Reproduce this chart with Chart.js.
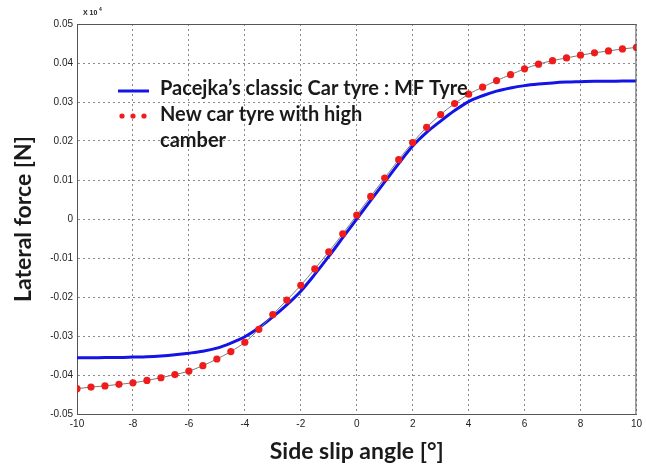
<!DOCTYPE html>
<html>
<head>
<meta charset="utf-8">
<script src="https://cdn.jsdelivr.net/npm/chart.js@4"></script>
<style>
  html, body { margin: 0; padding: 0; background: #fff; }
  #wrap { width: 646px; height: 470px; }
</style>
</head>
<body>
<div id="wrap"><canvas id="tyreChart" width="646" height="470"></canvas></div>
<script>
// side slip angle [deg]
var slipAngles = [-10, -9.5, -9, -8.5, -8, -7.5, -7, -6.5, -6, -5.5, -5, -4.5, -4, -3.5, -3, -2.5, -2, -1.5, -1, -0.5,
                  0, 0.5, 1, 1.5, 2, 2.5, 3, 3.5, 4, 4.5, 5, 5.5, 6, 6.5, 7, 7.5, 8, 8.5, 9, 9.5, 10];

// Pacejka's classic car tyre (MF tyre)
var mfTyre = [-0.0356, -0.0356, -0.0355, -0.0355, -0.0354, -0.0353, -0.0351, -0.0348, -0.0344, -0.0339,
              -0.0331, -0.0318, -0.0302, -0.0279, -0.0251, -0.0220, -0.0185, -0.0142, -0.0096, -0.0048,
              0, 0.0048, 0.0095, 0.0142, 0.0187, 0.0222, 0.0251, 0.0278, 0.0301, 0.0316,
              0.0328, 0.0336, 0.0342, 0.0346, 0.0349, 0.0351, 0.0352, 0.0353, 0.0353, 0.0354, 0.0354];

// new car tyre with high camber
var highCamber = [-0.0435, -0.0431, -0.0428, -0.0424, -0.0420, -0.0414, -0.0407, -0.0399, -0.0390, -0.0376,
                  -0.0359, -0.0340, -0.0316, -0.0283, -0.0245, -0.0208, -0.0170, -0.0128, -0.0084, -0.0038,
                  0.0010, 0.0058, 0.0105, 0.0152, 0.0196, 0.0235, 0.0268, 0.0296, 0.0320, 0.0338,
                  0.0355, 0.0370, 0.0385, 0.0397, 0.0406, 0.0413, 0.0420, 0.0426, 0.0431, 0.0436, 0.0440];

var xTicks = [-10, -8, -6, -4, -2, 0, 2, 4, 6, 8, 10];
var yTicks = [0.05, 0.04, 0.03, 0.02, 0.01, 0, -0.01, -0.02, -0.03, -0.04, -0.05];

var legendLabels = ['Pacejka\u2019s classic Car tyre : MF Tyre', 'New car tyre with high', 'camber'];

function toPoints(ys) {
    return slipAngles.map(function(x, i) { return { x: x, y: ys[i] }; });
}

var tickFont = '"Liberation Sans Narrow", "Liberation Sans", Arial, sans-serif';
var titleFont = 'Lato, "Open Sans", sans-serif';

// frame on top/right, the x10^4 note and the legend inside the plot
var extrasPlugin = {
    id: 'extras',
    afterDraw: function(chart) {
        var ctx = chart.ctx, a = chart.chartArea;
        ctx.save();
        ctx.strokeStyle = '#555';
        ctx.lineWidth = 1;
        ctx.beginPath();
        ctx.moveTo(a.left, a.top + 0.5);
        ctx.lineTo(a.right - 0.5, a.top + 0.5);
        ctx.lineTo(a.right - 0.5, a.bottom);
        ctx.stroke();

        ctx.fillStyle = '#222';
        ctx.textBaseline = 'alphabetic';
        ctx.font = 'bold 7px "Liberation Sans", Arial, sans-serif';
        ctx.fillText('X 10', 83, 15);
        ctx.font = 'bold 5px "Liberation Sans", Arial, sans-serif';
        ctx.fillText('4', 99, 11);

        // legend
        ctx.strokeStyle = '#1414e6';
        ctx.lineWidth = 3;
        ctx.beginPath();
        ctx.moveTo(118, 91);
        ctx.lineTo(149, 91);
        ctx.stroke();
        ctx.fillStyle = '#f01c1c';
        [122, 133, 144].forEach(function(px) {
            ctx.beginPath();
            ctx.arc(px, 116, 2.6, 0, Math.PI * 2);
            ctx.fill();
        });
        ctx.fillStyle = '#1a1a1a';
        ctx.font = 'bold 20px ' + titleFont;
        ctx.textBaseline = 'middle';
        ctx.fillText(legendLabels[0], 160, 89);
        ctx.fillText(legendLabels[1], 160, 115);
        ctx.fillText(legendLabels[2], 160, 141);
        ctx.restore();
    }
};

var ctxTyre = document.getElementById('tyreChart').getContext('2d');
var tyreChart = new Chart(ctxTyre, {
    type: 'line',
    data: {
        datasets: [{
            label: legendLabels[0],
            data: toPoints(mfTyre),
            borderColor: '#1414e6',
            borderWidth: 3,
            pointRadius: 0,
            cubicInterpolationMode: 'monotone',
            fill: false,
            order: 2
        }, {
            label: legendLabels[1] + ' ' + legendLabels[2],
            data: toPoints(highCamber),
            borderColor: '#7a7a7a',
            borderWidth: 1,
            pointRadius: 3.6,
            pointBackgroundColor: '#f01c1c',
            pointBorderWidth: 0,
            cubicInterpolationMode: 'monotone',
            fill: false,
            order: 1
        }]
    },
    options: {
        responsive: false,
        animation: false,
        layout: { padding: { left: 10, right: 5, top: 24, bottom: 3 } },
        plugins: {
            legend: { display: false },
            tooltip: { enabled: false }
        },
        scales: {
            x: {
                type: 'linear',
                min: -10,
                max: 10,
                afterBuildTicks: function(scale) {
                    scale.ticks = xTicks.map(function(v) { return { value: v }; });
                },
                afterFit: function(scale) { scale.height = 53; },
                grid: { color: '#8a8a8a', lineWidth: 1, drawTicks: false },
                border: { display: true, color: '#555', width: 1, dash: [2, 3] },
                ticks: {
                    color: '#222',
                    padding: 4,
                    maxRotation: 0,
                    font: { family: tickFont, size: 10 },
                    callback: function(v) { return String(v); }
                },
                title: {
                    display: true,
                    text: 'Side slip angle [\u00b0]',
                    color: '#1a1a1a',
                    padding: { top: 0, bottom: 2 },
                    font: { family: titleFont, size: 23, weight: 'bold' }
                }
            },
            y: {
                type: 'linear',
                min: -0.05,
                max: 0.05,
                afterBuildTicks: function(scale) {
                    scale.ticks = yTicks.map(function(v) { return { value: v }; });
                },
                afterFit: function(scale) { scale.width = 67; },
                grid: { color: '#8a8a8a', lineWidth: 1, drawTicks: false },
                border: { display: true, color: '#555', width: 1, dash: [2, 3] },
                ticks: {
                    color: '#222',
                    padding: 4,
                    font: { family: tickFont, size: 10 },
                    callback: function(v) {
                        var r = Math.round(v * 100) / 100;
                        return r === 0 ? '0' : r.toFixed(2);
                    }
                },
                title: {
                    display: true,
                    text: 'Lateral force [N]',
                    color: '#1a1a1a',
                    padding: 0,
                    font: { family: titleFont, size: 23, weight: 'bold' }
                }
            }
        }
    },
    plugins: [extrasPlugin]
});
</script>
</body>
</html>
